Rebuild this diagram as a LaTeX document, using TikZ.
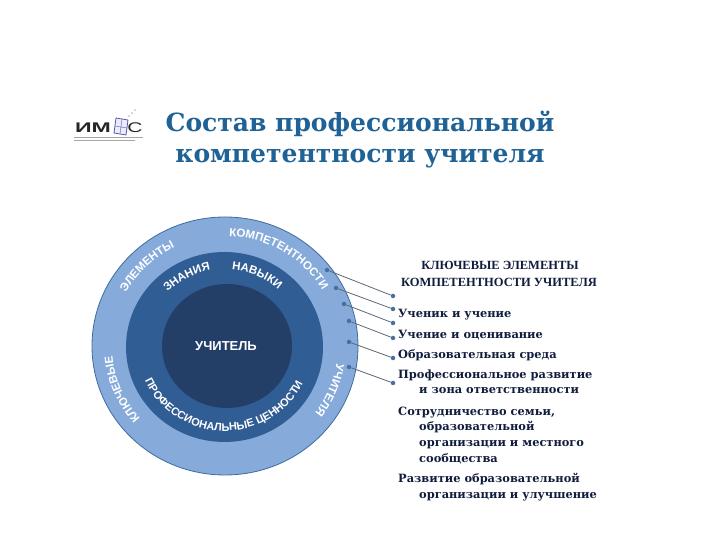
\documentclass[tikz,border=0pt]{standalone}
\usepackage{fontspec}
\setmainfont{DejaVu Serif}
\newfontfamily\ringfont{Liberation Sans}
\newfontfamily\headfont{Liberation Serif}
\usetikzlibrary{decorations.text}
\definecolor{ringout}{HTML}{86ABDB}
\definecolor{ringmid}{HTML}{2F5D94}
\definecolor{ringin}{HTML}{233F68}
\definecolor{edgeout}{HTML}{3F6C9E}
\definecolor{titleblue}{HTML}{1F6296}
\definecolor{bodyink}{HTML}{101C3C}
\definecolor{linkgray}{HTML}{5C6878}
\definecolor{dotblue}{HTML}{47709F}
\newcommand{\ringtext}[7]{%
  \path[decorate,decoration={text along path,text align=center,
    text={|\ringfont\bfseries\fontsize{#6}{#6}\selectfont\color{white}|#5}}]
    ([shift={(#3:#1pt and #2pt)}]#7) arc[start angle=#3,end angle=#4,x radius=#1pt,y radius=#2pt];}
\tikzset{
  dotmark/.style={circle,fill=dotblue,inner sep=0pt,minimum size=4.5pt},
  link/.style={draw=linkgray,line width=0.8pt},
  itemtext/.style={anchor=base west,inner sep=0pt,font=\bfseries\fontsize{11.4}{12}\selectfont,text=bodyink},
  headtext/.style={anchor=base,inner sep=0pt,font=\headfont\bfseries\fontsize{12.5}{13}\selectfont,text=bodyink},
  titletext/.style={inner sep=0pt,font=\bfseries\fontsize{25}{26}\selectfont,text=titleblue},
}
\begin{document}
\begin{tikzpicture}[x=1pt,y=1pt]
\useasboundingbox (0,0) rectangle (720,540);
\fill[white] (0,0) rectangle (720,540);
% logo
\node[inner sep=0pt,xscale=1.65,font=\ringfont\bfseries\fontsize{14}{14}\selectfont,text=black!85] (logoa) at (93,412) {ИМ};
\node[inner sep=0pt,xscale=1.5,font=\ringfont\fontsize{14}{14}\selectfont,text=black!85] (logob) at (135,412) {С};
\draw[draw=gray!70!blue,line width=0.8pt,fill=blue!8] (114,407) -- (126,405) -- (128,420) -- (116,422) -- cycle;
\draw[gray!70!blue,line width=0.4pt] (115,414) -- (127,412) (120,406) -- (122,421);
\fill[gray!60] (129,424) circle (0.8pt) (132,427) circle (0.8pt) (135,430) circle (0.8pt);
\draw[gray!70,line width=1pt] (74,402) -- (143,402) (74,399) -- (135,399);
% title
\node[titletext] (title1) at (360,416) {Состав профессиональной};
\node[titletext] (title2) at (360,381) {компетентности учителя};
% rings
\coordinate (co) at (225,194);
\coordinate (cm) at (224.5,193);
\coordinate (ci) at (227,194);
\fill[ringout,draw=edgeout,line width=0.8pt] (co) ellipse [x radius=133,y radius=129];
\fill[ringmid] (cm) ellipse [x radius=98.5,y radius=95];
\fill[ringin] (ci) ellipse [x radius=65,y radius=62];
\node[inner sep=0pt,font=\ringfont\bfseries\fontsize{13}{13}\selectfont,text=white] (teacher) at (226,194) {УЧИТЕЛЬ};
\ringtext{113}{110}{109}{9}{КОМПЕТЕНТНОСТИ}{11.5}{co}
\ringtext{113}{110}{174}{94}{ЭЛЕМЕНТЫ}{11.5}{co}
\ringtext{113}{110}{243}{163}{КЛЮЧЕВЫЕ}{11.5}{co}
\ringtext{113}{110}{17}{-63}{УЧИТЕЛЯ}{11.5}{co}
\ringtext{80}{78}{168}{68}{ЗНАНИЯ}{11.5}{cm}
\ringtext{80}{78}{116}{16}{НАВЫКИ}{11.5}{cm}
\ringtext{87}{84}{185}{353}{ПРОФЕССИОНАЛЬНЫЕ ЦЕННОСТИ}{11}{cm}
% right column
\node[headtext] (h1) at (500,270) {КЛЮЧЕВЫЕ ЭЛЕМЕНТЫ};
\node[headtext] (h2) at (499,253) {КОМПЕТЕНТНОСТИ УЧИТЕЛЯ};
\node[itemtext] (i1) at (398,222) {Ученик и учение};
\node[itemtext] (i2) at (398,201) {Учение и оценивание};
\node[itemtext] (i3) at (398,181) {Образовательная среда};
\node[itemtext] (i4) at (398,161) {Профессиональное развитие};
\node[itemtext] (i4b) at (419,146) {и зона ответственности};
\node[itemtext] (i5) at (398,124) {Сотрудничество семьи,};
\node[itemtext] (i5b) at (419,109) {образовательной};
\node[itemtext] (i5c) at (419,93) {организации и местного};
\node[itemtext] (i5d) at (419,77) {сообщества};
\node[itemtext] (i6) at (398,57) {Развитие образовательной};
\node[itemtext] (i6b) at (419,41) {организации и улучшение};
% connectors
\node[dotmark] (s1) at (327,270) {};
\node[dotmark] (s2) at (336,252) {};
\node[dotmark] (s3) at (344,236) {};
\node[dotmark] (s4) at (349,219) {};
\node[dotmark] (s5) at (349,198) {};
\node[dotmark] (s6) at (349,173) {};
\node[dotmark] (e1) at (393,244) {};
\node[dotmark] (e2) at (393,231) {};
\node[dotmark] (e3) at (393,217) {};
\node[dotmark] (e4) at (393,202) {};
\node[dotmark] (e5) at (393,182) {};
\node[dotmark] (e6) at (393,157) {};
\foreach \k in {1,...,6} \draw[link] (s\k) -- (e\k);
\end{tikzpicture}
\end{document}
